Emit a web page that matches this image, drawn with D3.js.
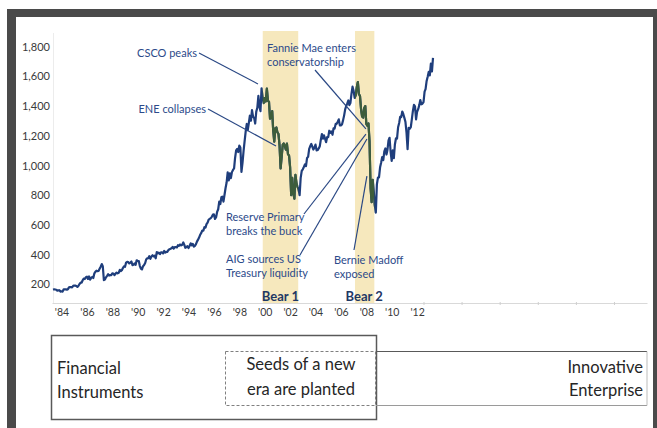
<!DOCTYPE html>
<html>
<head>
<meta charset="utf-8">
<script src="https://cdn.jsdelivr.net/npm/d3@7"></script>
<style>
  html, body { margin: 0; padding: 0; background: #fff; }
  svg { display: block; font-family: Lato, 'Open Sans', sans-serif; }
</style>
</head>
<body>
<div id="chart-area"></div>
<script>
const canvas_width = 657;
const canvas_height = 428;

// S&P 500, one value per month, Oct 1983 .. Sep 2013
const first_month = new Date(1983, 9, 1);
const spx = [
  163.6, 166.4, 164.9,
  163.4, 157.1, 159.2, 160.1, 150.6, 153.2, 150.7, 166.7, 166.1, 166.1, 163.6, 167.2,
  179.6, 181.2, 180.7, 179.8, 189.6, 191.9, 190.9, 188.6, 182.1, 189.8, 202.2, 211.3,
  211.8, 226.9, 238.9, 235.5, 247.4, 250.8, 236.1, 252.9, 231.3, 243.0, 249.2, 242.2,
  274.1, 284.2, 291.7, 288.4, 290.1, 304.0, 318.7, 336.0, 321.8, 228.0, 232.0, 247.1,
  257.1, 267.8, 258.9, 261.3, 262.2, 273.5, 272.0, 261.5, 271.9, 279.0, 273.7, 277.7,
  297.5, 288.9, 294.9, 309.6, 320.5, 318.0, 346.1, 351.5, 349.2, 340.4, 346.0, 353.4,
  329.1, 331.9, 339.9, 330.8, 361.2, 358.0, 356.2, 322.6, 306.1, 300.0, 322.2, 330.2,
  343.9, 367.1, 375.2, 375.3, 389.8, 371.2, 387.8, 395.4, 387.9, 392.5, 375.2, 417.1,
  408.8, 412.7, 403.7, 415.0, 415.4, 408.1, 424.2, 414.0, 417.8, 418.7, 431.4, 435.7,
  438.8, 443.4, 451.7, 440.2, 450.2, 450.5, 448.1, 463.6, 458.9, 467.8, 461.8, 466.5,
  481.6, 467.1, 445.8, 450.9, 456.5, 444.3, 458.3, 475.5, 462.7, 472.4, 453.7, 459.3,
  470.4, 487.4, 500.7, 514.7, 533.4, 544.8, 562.1, 561.9, 584.4, 581.5, 605.4, 615.9,
  636.0, 640.4, 645.5, 654.2, 669.1, 670.6, 640.0, 652.0, 687.3, 705.3, 757.0, 740.7,
  786.2, 790.8, 757.1, 801.3, 848.3, 885.1, 954.3, 899.5, 947.3, 914.6, 955.4, 970.4,
  980.3, 1049.3, 1101.8, 1111.8, 1090.8, 1133.8, 1120.7, 957.3, 1017.0, 1098.7, 1163.6, 1229.2,
  1279.6, 1238.3, 1286.4, 1335.2, 1301.8, 1372.7, 1328.7, 1320.4, 1282.7, 1362.9, 1388.9, 1469.3,
  1394.5, 1366.4, 1520.0, 1452.4, 1420.6, 1454.6, 1430.8, 1517.7, 1436.5, 1429.4, 1315.2, 1320.3,
  1366.0, 1239.9, 1160.3, 1249.5, 1255.8, 1224.4, 1211.2, 1133.6, 980.0, 1059.8, 1139.5, 1148.1,
  1130.2, 1106.7, 1147.4, 1076.9, 1067.1, 989.8, 800.0, 916.1, 815.3, 776.8, 936.3, 879.8,
  855.7, 841.2, 800.7, 916.9, 963.6, 974.5, 990.3, 1008.0, 996.0, 1050.7, 1058.2, 1111.9,
  1131.1, 1144.9, 1126.2, 1107.3, 1120.7, 1140.8, 1101.7, 1104.2, 1114.6, 1130.2, 1173.8, 1211.9,
  1181.3, 1203.6, 1180.6, 1156.9, 1191.5, 1191.3, 1234.2, 1220.3, 1228.8, 1207.0, 1249.5, 1248.3,
  1280.1, 1280.7, 1294.9, 1310.6, 1270.1, 1270.2, 1276.7, 1303.8, 1335.9, 1377.9, 1400.6, 1418.3,
  1438.2, 1406.8, 1420.9, 1482.4, 1530.6, 1503.4, 1455.3, 1474.0, 1526.8, 1562.0, 1481.1, 1468.4,
  1378.6, 1330.6, 1322.7, 1385.6, 1400.4, 1280.0, 1267.4, 1282.8, 1166.4, 848.0, 752.4, 903.3,
  825.9, 735.1, 683.0, 872.8, 919.1, 919.3, 987.5, 1020.6, 1057.1, 1036.2, 1095.6, 1115.1,
  1073.9, 1104.5, 1169.4, 1186.7, 1089.4, 1030.7, 1101.6, 1049.3, 1141.2, 1183.3, 1180.6, 1257.6,
  1286.1, 1327.2, 1325.8, 1363.6, 1345.2, 1320.6, 1292.3, 1218.9, 1110.0, 1253.3, 1247.0, 1257.6,
  1312.4, 1365.7, 1408.5, 1397.9, 1310.3, 1362.2, 1379.3, 1406.6, 1440.7, 1412.2, 1416.2, 1426.2,
  1498.1, 1514.7, 1569.2, 1597.6, 1630.7, 1606.3, 1685.7, 1633.0, 1725.0
];

const label_years = [1984, 1986, 1988, 1990, 1992, 1994, 1996, 1998, 2000, 2002, 2004, 2006, 2008, 2010, 2012];
const year_labels = ["'84", "'86", "'88", "'90", "'92", "'94", "'96", "'98", "'00", "'02", "'04", "'06", "'08", "'10", "'12"];
const mark_years = [2013, 2016, 2019, 2022, 2025, 2028];
const price_ticks = [200, 400, 600, 800, 1000, 1200, 1400, 1600, 1800];

const bear_names = ['Bear 1', 'Bear 2'];
const bear_start = [new Date(2000, 4, 5), new Date(2007, 7, 10)];
const bear_end = [new Date(2003, 1, 20), new Date(2009, 1, 17)];

const note_text = [
  ['CSCO peaks'],
  ['ENE collapses'],
  ['Fannie Mae enters', 'conservatorship'],
  ['Reserve Primary', 'breaks the buck'],
  ['AIG sources US', 'Treasury liquidity'],
  ['Bernie Madoff', 'exposed']
];
const note_dates = [new Date(1999, 11, 20), new Date(2001, 4, 22), new Date(2008, 5, 20),
                    new Date(2008, 5, 20), new Date(2008, 6, 18), new Date(2008, 6, 18)];
const note_values = [1549, 1131, 1246, 1212, 1178, 929];

const box_left = ['Financial', 'Instruments'];
const box_mid = ['Seeds of a new', 'era are planted'];
const box_right = ['Innovative', 'Enterprise'];

// where each note's text sits and where its leader line leaves it
const note_layout = [
  { anchor: 'end',   x: 197, y: [52],       from: [199, 53] },
  { anchor: 'end',   x: 206, y: [108],      from: [208, 109] },
  { anchor: 'start', x: 267, y: [47, 61],   from: [315, 70] },
  { anchor: 'start', x: 226, y: [216, 230], from: [304, 214] },
  { anchor: 'start', x: 226, y: [258, 272], from: [300, 255] },
  { anchor: 'start', x: 334, y: [259, 273], from: [354, 250] }
];

const navy = '#1f3e7c';
const green = '#3d5d3b';
const note_color = '#2c4a8a';
const axis_y = 303;

let svg = d3.select('#chart-area').append('svg')
    .attr('width', canvas_width)
    .attr('height', canvas_height);

// dark frame
svg.append('rect').attr('x', 7).attr('y', 9).attr('width', 650).attr('height', 419).attr('fill', '#4a4a4a');
svg.append('rect').attr('x', 16).attr('y', 17).attr('width', 637).attr('height', 411).attr('fill', '#fff');

let months = d3.timeMonth.range(first_month, d3.timeMonth.offset(first_month, spx.length));
let data = spx.map((v, i) => ({ date: d3.timeMonth.offset(months[i], 1), value: v }));

let x = d3.scaleTime()
    .domain([new Date(1983, 9, 1), new Date(2030, 7, 8)])
    .range([52, 647]);

let y = d3.scaleLinear()
    .domain([0, 1800])
    .range([314, 46.7]);

// bear market bands
let bands = svg.append('g');
bear_names.forEach((name, i) => {
    bands.append('rect')
        .attr('x', x(bear_start[i]))
        .attr('y', 31)
        .attr('width', x(bear_end[i]) - x(bear_start[i]))
        .attr('height', axis_y - 31)
        .attr('fill', '#f6e8bd');
});

let clip = svg.append('clipPath').attr('id', 'bear-clip');
bear_names.forEach((name, i) => {
    clip.append('rect')
        .attr('x', x(bear_start[i]))
        .attr('y', 0)
        .attr('width', x(bear_end[i]) - x(bear_start[i]))
        .attr('height', canvas_height);
});

// faint value axis line
svg.append('line')
    .attr('x1', 53.5).attr('x2', 53.5)
    .attr('y1', 33).attr('y2', axis_y)
    .attr('stroke', '#ececec');

let leftAxis = d3.axisLeft(y)
    .tickValues(price_ticks)
    .tickFormat(d3.format(','))
    .tickSize(0)
    .tickPadding(3);

let yg = svg.append('g')
    .attr('transform', 'translate(53, 0)')
    .call(leftAxis);
yg.select('.domain').remove();
yg.selectAll('text')
    .attr('font-family', 'Lato, sans-serif')
    .attr('font-size', '11px')
    .attr('fill', '#3a3a3a');

let bottomAxis = d3.axisBottom(x)
    .tickValues(label_years.map((yr) => new Date(yr, 6, 1)))
    .tickFormat((d, i) => year_labels[i])
    .tickSize(0)
    .tickPadding(6);

let xg = svg.append('g')
    .attr('transform', `translate(0, ${axis_y})`)
    .call(bottomAxis);
xg.select('.domain').attr('stroke', '#d9d9d9');
xg.selectAll('text')
    .attr('font-family', 'Lato, sans-serif')
    .attr('font-size', '10.5px')
    .attr('fill', '#3a3a3a');

let markAxis = d3.axisBottom(x)
    .tickValues(mark_years.map((yr) => new Date(yr, 0, 1)))
    .tickFormat('')
    .tickSize(3);

let mg = svg.append('g')
    .attr('transform', `translate(0, ${axis_y - 1})`)
    .call(markAxis);
mg.select('.domain').remove();
mg.selectAll('line').attr('stroke', '#cfcfcf');

// price line, green where it runs through a bear band
let line = d3.line()
    .x((d) => x(d.date))
    .y((d) => y(d.value));

svg.append('path')
    .datum(data)
    .attr('d', line)
    .attr('fill', 'none')
    .attr('stroke', navy)
    .attr('stroke-width', 2.2)
    .attr('stroke-linejoin', 'round');

svg.append('path')
    .datum(data)
    .attr('d', line)
    .attr('clip-path', 'url(#bear-clip)')
    .attr('fill', 'none')
    .attr('stroke', green)
    .attr('stroke-width', 2.2)
    .attr('stroke-linejoin', 'round');

// bear labels
bear_names.forEach((name, i) => {
    svg.append('text')
        .attr('x', (x(bear_start[i]) + x(bear_end[i])) / 2 + (i == 1 ? -0.5 : 0))
        .attr('y', 296)
        .attr('dominant-baseline', 'central')
        .attr('text-anchor', 'middle')
        .attr('font-size', '13px')
        .attr('font-weight', 'bold')
        .attr('fill', '#1f3864')
        .text(name);
});

// notes with leader lines
note_text.forEach((lines, i) => {
    let L = note_layout[i];
    svg.append('line')
        .attr('x1', L.from[0]).attr('y1', L.from[1])
        .attr('x2', x(note_dates[i])).attr('y2', y(note_values[i]))
        .attr('stroke', '#2a4884')
        .attr('stroke-width', 1.2);
    lines.forEach((t, j) => {
        svg.append('text')
            .attr('x', L.x)
            .attr('y', L.y[j])
            .attr('dominant-baseline', 'central')
            .attr('text-anchor', L.anchor)
            .attr('font-size', '11px')
            .attr('fill', note_color)
            .text(t);
    });
});

// boxes along the bottom
svg.append('rect')
    .attr('x', 51.5).attr('y', 335.5)
    .attr('width', 325).attr('height', 84)
    .attr('fill', 'none')
    .attr('stroke', '#595959')
    .attr('stroke-width', 1.5);

svg.append('line').attr('x1', 376).attr('x2', 647).attr('y1', 351.5).attr('y2', 351.5)
    .attr('stroke', '#595959');
svg.append('line').attr('x1', 376).attr('x2', 647).attr('y1', 405.5).attr('y2', 405.5)
    .attr('stroke', '#9a9a9a');
svg.append('line').attr('x1', 647).attr('x2', 647).attr('y1', 351.5).attr('y2', 405.5)
    .attr('stroke', '#bdbdbd');

svg.append('rect')
    .attr('x', 225.5).attr('y', 351.5)
    .attr('width', 150).attr('height', 54)
    .attr('fill', 'none')
    .attr('stroke', '#808080')
    .attr('stroke-dasharray', '3,2');

const box_font = '16.5px';
box_left.forEach((t, j) => {
    svg.append('text').attr('x', 57).attr('y', 368 + j * 24)
        .attr('dominant-baseline', 'central')
        .attr('font-size', box_font).attr('fill', '#262626').text(t);
});
box_mid.forEach((t, j) => {
    svg.append('text').attr('x', 301).attr('y', 364 + j * 25)
        .attr('dominant-baseline', 'central').attr('text-anchor', 'middle')
        .attr('font-size', box_font).attr('fill', '#262626').text(t);
});
box_right.forEach((t, j) => {
    svg.append('text').attr('x', 643).attr('y', 367 + j * 23)
        .attr('dominant-baseline', 'central').attr('text-anchor', 'end')
        .attr('font-size', box_font).attr('fill', '#262626').text(t);
});
</script>
</body>
</html>
